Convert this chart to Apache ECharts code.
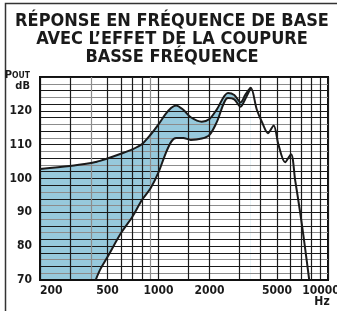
<!DOCTYPE html>
<html>
<head>
<meta charset="utf-8">
<script src="https://cdn.jsdelivr.net/npm/echarts@6/dist/echarts.min.js"></script>
<style>
  html, body { margin: 0; padding: 0; background: #fff; }
  #chart { width: 337px; height: 311px; }
</style>
</head>
<body>
<div id="chart"></div>
<script>
// frequencies (Hz) where both curves bound the shaded band
const bandFreq = [200, 300, 400, 426, 452, 500, 600, 700, 800, 900, 1000, 1100, 1190, 1270, 1400, 1550, 1800, 2000, 2200, 2570, 2800, 3050, 3250, 3500];
// upper curve: response without the bass cut (dB)
const upperDb = [102.8, 103.7, 104.6, 104.9, 105.2, 105.9, 107.3, 108.6, 110.2, 113.0, 116.0, 119.0, 120.9, 121.6, 120.3, 118.1, 116.8, 117.6, 120.3, 125.3, 124.7, 122.5, 124.7, 126.8];
// lower curve: with the bass cut (dB), 70 = bottom of the chart
const lowerDb = [70, 70, 70, 70, 73.0, 76.8, 83.8, 88.6, 93.7, 97.2, 101.8, 107.3, 110.9, 112.0, 112.0, 111.4, 111.8, 112.9, 116.5, 123.8, 123.4, 121.2, 123.5, 126.8];
// rest of the upper curve after the two curves merge
const tailFreq = [3800, 4100, 4420, 4780, 5100, 5580, 6050, 6400, 6850, 7300, 7750];
const tailDb = [120.4, 116.4, 113.4, 115.7, 110.0, 104.8, 107.2, 99.5, 90.0, 80.0, 70.0];

const gridFreq = [200, 300, 400, 500, 600, 700, 800, 900, 1000, 1500, 2000, 3000, 4000, 5000, 6000, 7000, 8000, 9000, 10000];
const labelFreq = [200, 500, 1000, 2000, 5000];
const yLabels = [70, 80, 90, 100, 110, 120];

const lg = f => Math.log10(f);
const fontNarrow = '"Liberation Sans Narrow", "DejaVu Sans Condensed", sans-serif';

const chart = echarts.init(document.getElementById('chart'));

// grid line colours: dark lines with some lighter ones
const hColors = [];
for (let v = 70; v <= 130; v += 2) {
  const i = (v - 70) / 2;
  hColors.push(v % 10 === 0 || i % 2 === 0 ? '#1a1a1a' : '#8c8c8c');
}
const vColors = gridFreq.map(f => (f === 400 || f === 900 ? '#8c8c8c' : '#1a1a1a'));

const bandUpperPts = bandFreq.map((f, i) => [lg(f), upperDb[i]]);
const bandLowerPts = bandFreq.map((f, i) => [lg(f), lowerDb[i]]);
const upperPts = bandUpperPts.concat(tailFreq.map((f, i) => [lg(f), tailDb[i]]));
const lowerPts = bandLowerPts.filter((p, i) => i >= 3);

const option = {
  animation: false,
  backgroundColor: '#fff',
  title: {
    text: 'RÉPONSE EN FRÉQUENCE DE BASE\nAVEC L’EFFET DE LA COUPURE\nBASSE FRÉQUENCE',
    left: 172,
    top: 12,
    padding: 0,
    textAlign: 'center',
    textStyle: {
      fontFamily: '"DejaVu Sans Condensed", sans-serif',
      fontWeight: 'bold',
      fontSize: 18,
      lineHeight: 18,
      color: '#1a1a1a'
    }
  },
  grid: {
    left: 40, right: 9, top: 77, bottom: 31,
    outerBoundsMode: 'none',
    containLabel: false,
    show: true, borderColor: '#111', borderWidth: 2, backgroundColor: 'transparent'
  },
  xAxis: {
    type: 'value',
    min: lg(200),
    max: 4,
    z: 3,
    axisLine: { show: true, onZero: false, lineStyle: { color: '#111', width: 2 } },
    axisTick: { show: false, customValues: gridFreq.map(lg) },
    splitLine: { show: true, lineStyle: { color: vColors, width: 1.2 } },
    axisLabel: {
      customValues: labelFreq.map(lg),
      formatter: v => String(Math.round(Math.pow(10, v))),
      alignMinLabel: 'left',
      margin: 5,
      fontFamily: fontNarrow,
      fontWeight: 'bold',
      fontSize: 12,
      color: '#1a1a1a'
    }
  },
  yAxis: {
    type: 'value',
    min: 70,
    max: 130,
    interval: 2,
    z: 3,
    axisLine: { show: true, lineStyle: { color: '#111', width: 2 } },
    axisTick: { show: false },
    splitLine: { show: true, lineStyle: { color: hColors, width: 1.2 } },
    axisLabel: {
      formatter: v => (yLabels.indexOf(v) >= 0 ? String(v) : ''),
      margin: 8,
      fontFamily: fontNarrow,
      fontWeight: 'bold',
      fontSize: 12,
      color: '#1a1a1a'
    }
  },
  graphic: [
    {
      type: 'polyline', z: 10, silent: true,
      shape: { points: [[5.5, 311], [5.5, 3.5], [337, 3.5]] },
      style: { stroke: '#333', lineWidth: 1.5, fill: null }
    },
    {
      type: 'text', z: 10, right: 307, top: 70,
      style: {
        text: '{a|P}{b|OUT}',
        rich: {
          a: { fontFamily: fontNarrow, fontWeight: 'bold', fontSize: 11, fill: '#1a1a1a' },
          b: { fontFamily: fontNarrow, fontWeight: 'bold', fontSize: 8.5, fill: '#1a1a1a' }
        }
      }
    },
    {
      type: 'text', z: 10, right: 307, top: 81,
      style: { text: 'dB', fontFamily: fontNarrow, fontWeight: 'bold', fontSize: 11, fill: '#1a1a1a' }
    },
    // last frequency label sits left of its gridline, with the unit under it
    {
      type: 'text', z: 10, x: 321, y: 285,
      style: { text: '10000', align: 'center', verticalAlign: 'top', fontFamily: fontNarrow, fontWeight: 'bold', fontSize: 12, fill: '#1a1a1a' }
    },
    {
      type: 'text', z: 10, x: 322, y: 296,
      style: { text: 'Hz', align: 'center', verticalAlign: 'top', fontFamily: fontNarrow, fontWeight: 'bold', fontSize: 12, fill: '#1a1a1a' }
    }
  ],
  series: [
    // blue fill under the upper curve, then a white mask under the lower one;
    // the grid (axes z:3) is drawn over both
    {
      name: 'bande', type: 'line', z: 1,
      data: bandUpperPts, symbol: 'none', silent: true, smooth: 0.3,
      lineStyle: { width: 0 },
      areaStyle: { color: '#97c9dc', opacity: 1, origin: 'start' }
    },
    {
      name: 'masque', type: 'line', z: 2,
      data: bandLowerPts, symbol: 'none', silent: true, smooth: 0.3,
      lineStyle: { width: 0 },
      areaStyle: { color: '#ffffff', opacity: 1, origin: 'start' }
    },
    {
      name: 'sans coupure', type: 'line', z: 5,
      data: upperPts, symbol: 'none', smooth: 0.3,
      lineStyle: { color: '#1a1a1a', width: 2 }
    },
    {
      name: 'avec coupure', type: 'line', z: 5,
      data: lowerPts, symbol: 'none', smooth: 0.3,
      lineStyle: { color: '#1a1a1a', width: 2 }
    }
  ]
};

chart.setOption(option);
</script>
</body>
</html>
